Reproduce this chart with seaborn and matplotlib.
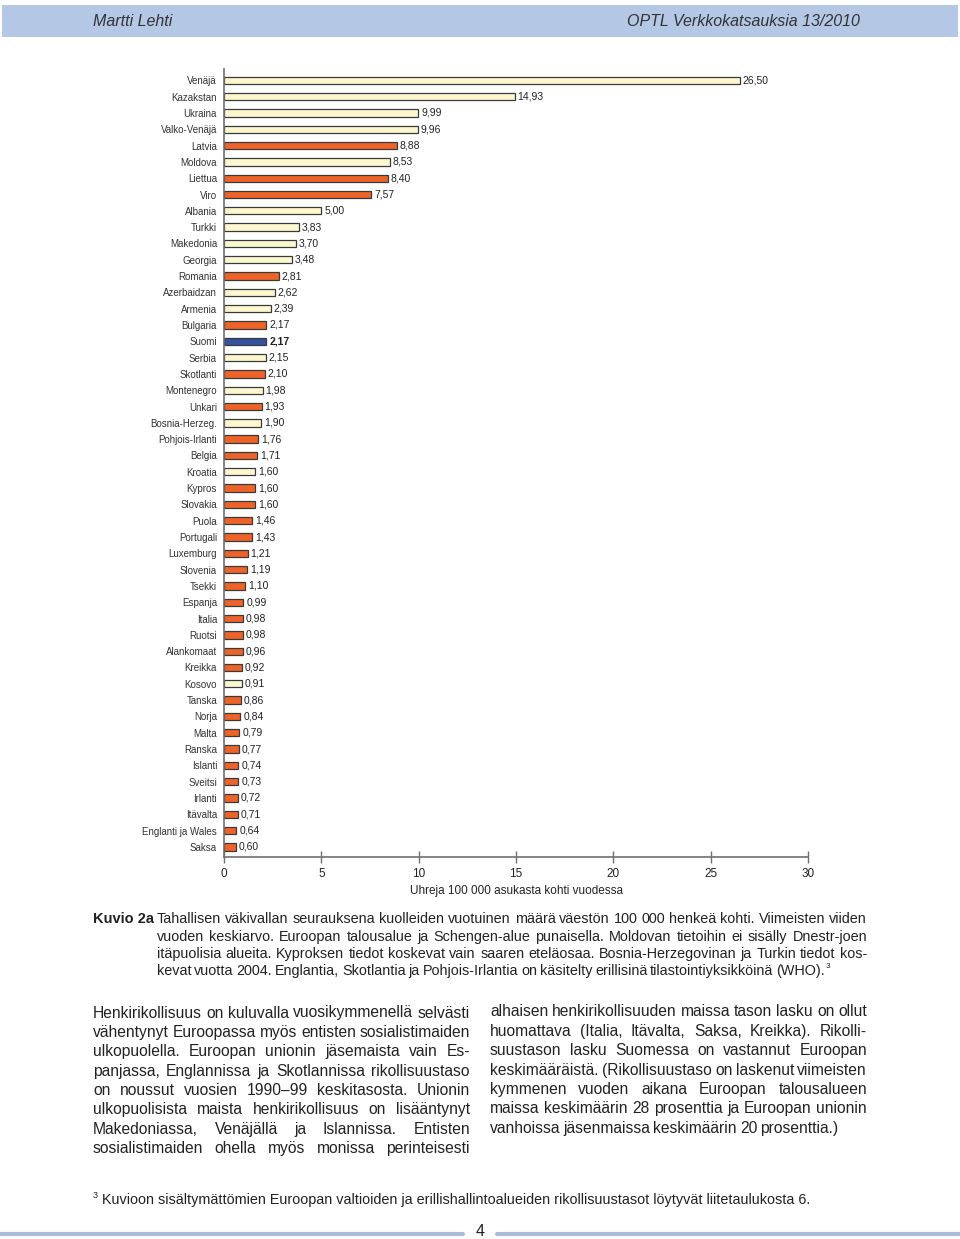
import matplotlib
matplotlib.use("Agg")
import matplotlib.pyplot as plt
import seaborn as sns
import pandas as pd
from matplotlib.patches import Rectangle
from matplotlib.lines import Line2D

# --- data ---
maat = ["Venäjä", "Kazakstan", "Ukraina", "Valko-Venäjä", "Latvia", "Moldova",
        "Liettua", "Viro", "Albania", "Turkki", "Makedonia", "Georgia", "Romania",
        "Azerbaidzan", "Armenia", "Bulgaria", "Suomi", "Serbia", "Skotlanti",
        "Montenegro", "Unkari", "Bosnia-Herzeg.", "Pohjois-Irlanti", "Belgia",
        "Kroatia", "Kypros", "Slovakia", "Puola", "Portugali", "Luxemburg",
        "Slovenia", "Tsekki", "Espanja", "Italia", "Ruotsi", "Alankomaat",
        "Kreikka", "Kosovo", "Tanska", "Norja", "Malta", "Ranska", "Islanti",
        "Sveitsi", "Irlanti", "Itävalta", "Englanti ja Wales", "Saksa"]
arvot = [26.50, 14.93, 9.99, 9.96, 8.88, 8.53, 8.40, 7.57, 5.00, 3.83, 3.70, 3.48,
         2.81, 2.62, 2.39, 2.17, 2.17, 2.15, 2.10, 1.98, 1.93, 1.90, 1.76, 1.71,
         1.60, 1.60, 1.60, 1.46, 1.43, 1.21, 1.19, 1.10, 0.99, 0.98, 0.98, 0.96,
         0.92, 0.91, 0.86, 0.84, 0.79, 0.77, 0.74, 0.73, 0.72, 0.71, 0.64, 0.60]
# m = muu Eurooppa, e = ETA/Schengen, s = Suomi
ryhmat = ["m", "m", "m", "m", "e", "m", "e", "e", "m", "m", "m", "m", "e",
          "m", "m", "e", "s", "m", "e", "m", "e", "m", "e", "e",
          "m", "e", "e", "e", "e", "e", "e", "e", "e", "e", "e", "e",
          "e", "m", "e", "e", "e", "e", "e", "e", "e", "e", "e", "e"]
varit = {"m": "#FDF7CF", "e": "#EE6428", "s": "#3552A0"}
xtiks = [0, 5, 10, 15, 20, 25, 30]

W, H = 960, 1239
sns.set_theme(style="white")
plt.rcParams["font.family"] = ["Liberation Sans", "DejaVu Sans"]
NARROW = ["Liberation Sans Narrow", "Liberation Sans", "DejaVu Sans"]
TXT = "#222222"

fig = plt.figure(figsize=(W / 100, H / 100), dpi=100)
fig.patch.set_facecolor("white")

# --- chart ---
ax = fig.add_axes([224 / W, 1 - 857 / H, (808 - 224) / W, (857 - 68.6) / H])
df = pd.DataFrame({"maa": maat, "arvo": arvot, "ryhma": ryhmat})
sns.barplot(data=df, x="arvo", y="maa", hue="ryhma", hue_order=["m", "e", "s"],
            palette=varit, dodge=False, width=0.45, edgecolor="#3a3a3a",
            linewidth=0.9, saturation=1, legend=False, ax=ax)
ax.set_xlim(0, 30)
ax.set_ylim(47.62, -0.72)
ax.set_xticks(xtiks)
ax.set_xticklabels([str(t) for t in xtiks])
ax.tick_params(axis="x", direction="inout", length=8, width=1, color="#707070",
               pad=4, labelsize=8.5, labelcolor=TXT, bottom=True)
ax.tick_params(axis="y", length=0, pad=5, labelsize=7, labelcolor="#333333")
ax.set_xlabel("")
ax.set_ylabel("")
for s in ["top", "right"]:
    ax.spines[s].set_visible(False)
for s in ["left", "bottom"]:
    ax.spines[s].set_color("#707070")
    ax.spines[s].set_linewidth(1.2)

for i, (v, g) in enumerate(zip(arvot, ryhmat)):
    ax.text(v + 0.15, i, f"{v:.2f}".replace(".", ","), va="center", ha="left",
            fontsize=7.5, color=TXT, fontweight="bold" if g == "s" else "normal")

fig.text(516 / W, 1 - 891 / H, "Uhreja 100 000 asukasta kohti vuodessa",
         ha="center", va="center", fontsize=8.5, color=TXT)

# --- header ---
fig.add_artist(Rectangle((2 / W, 1 - 37 / H), 956 / W, 32 / H,
                         transform=fig.transFigure, color="#B4C8E6", lw=0))
fig.text(93 / W, 1 - 21 / H, "Martti Lehti", ha="left", va="center",
         fontsize=11.5, style="italic", family=NARROW, color="#333333")
fig.text(860 / W, 1 - 21 / H, "OPTL Verkkokatsauksia 13/2010", ha="right",
         va="center", fontsize=11.5, style="italic", family=NARROW, color="#333333")

# --- justified text helper ---
renderer = fig.canvas.get_renderer()


def rivi(teksti, x0, x1, y, size, last=False, **kw):
    sanat = teksti.split(" ")
    arts = [fig.text(0, 1 - y / H, s, fontsize=size, va="center", ha="left",
                     family=NARROW, color=TXT, **kw) for s in sanat]
    lev = [a.get_window_extent(renderer).width for a in arts]
    if last or len(sanat) == 1:
        gap = size * 0.27
    else:
        gap = (x1 - x0 - sum(lev)) / (len(sanat) - 1)
    x = x0
    for a, w in zip(arts, lev):
        a.set_x(x / W)
        x += w + gap
    return x - gap


# caption
fig.text(93 / W, 1 - 919 / H, "Kuvio 2a", fontsize=10.5, fontweight="bold",
         va="center", ha="left", family=NARROW, color=TXT)
kuvateksti = [
    "Tahallisen väkivallan seurauksena kuolleiden vuotuinen määrä väestön 100 000 henkeä kohti. Viimeisten viiden",
    "vuoden keskiarvo. Euroopan talousalue ja Schengen-alue punaisella. Moldovan tietoihin ei sisälly Dnestr-joen",
    "itäpuolisia alueita. Kyproksen tiedot koskevat vain saaren eteläosaa. Bosnia-Herzegovinan ja Turkin tiedot kos-",
    "kevat vuotta 2004. Englantia, Skotlantia ja Pohjois-Irlantia on käsitelty erillisinä tilastointiyksikköinä (WHO).",
]
ky = [919, 937, 954, 971]
for i, (t, y) in enumerate(zip(kuvateksti, ky)):
    xe = rivi(t, 157, 867, y, 10.4, last=(i == len(kuvateksti) - 1))
fig.text((xe + 1) / W, 1 - 966 / H, "3", fontsize=6, va="center", ha="left",
         family=NARROW, color=TXT)

# body text
vasen = [
    "Henkirikollisuus on kuluvalla vuosikymmenellä selvästi",
    "vähentynyt Euroopassa myös entisten sosialistimaiden",
    "ulkopuolella. Euroopan unionin jäsemaista vain Es-",
    "panjassa, Englannissa ja Skotlannissa rikollisuustaso",
    "on noussut vuosien 1990–99 keskitasosta. Unionin",
    "ulkopuolisista maista henkirikollisuus on lisääntynyt",
    "Makedoniassa, Venäjällä ja Islannissa. Entisten",
    "sosialistimaiden ohella myös monissa perinteisesti",
]
oikea = [
    "alhaisen henkirikollisuuden maissa tason lasku on ollut",
    "huomattava (Italia, Itävalta, Saksa, Kreikka). Rikolli-",
    "suustason lasku Suomessa on vastannut Euroopan",
    "keskimääräistä. (Rikollisuustaso on laskenut viimeisten",
    "kymmenen vuoden aikana Euroopan talousalueen",
    "maissa keskimäärin 28 prosenttia ja Euroopan unionin",
    "vanhoissa jäsenmaissa keskimäärin 20 prosenttia.)",
]
for i, t in enumerate(vasen):
    rivi(t, 93, 470, 1013 + i * 19.36, 11.25)
for i, t in enumerate(oikea):
    rivi(t, 490, 867, 1012 + i * 19.36, 11.25, last=(i == len(oikea) - 1))

# footnote
fig.text(93 / W, 1 - 1196 / H, "3", fontsize=6.5, va="center", ha="left",
         family=NARROW, color=TXT)
fig.text(102 / W, 1 - 1200 / H,
         "Kuvioon sisältymättömien Euroopan valtioiden ja erillishallintoalueiden rikollisuustasot löytyvät liitetaulukosta 6.",
         fontsize=10.4, va="center", ha="left", family=NARROW, color=TXT)

# page footer
fig.add_artist(Line2D([0, 463 / W], [1 - 1234 / H] * 2, lw=3, color="#A9BCD8"))
fig.add_artist(Line2D([497 / W, 1], [1 - 1234 / H] * 2, lw=3, color="#A9BCD8"))
fig.text(480 / W, 1 - 1232 / H, "4", fontsize=11.5, ha="center", va="center",
         family=NARROW, color=TXT)

fig.savefig("out.png", dpi=100)
